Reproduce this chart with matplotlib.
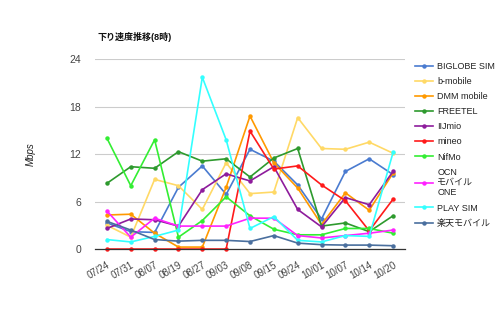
import matplotlib
matplotlib.use('Agg')
import matplotlib.pyplot as plt

plt.rcParams['font.family'] = ['Liberation Sans', 'Noto Sans CJK JP']

# データ (Mbps, 8時)
dates = ['07/24', '07/31', '08/07', '08/19', '08/27', '09/03', '09/08',
         '09/15', '09/24', '10/01', '10/07', '10/14', '10/20']

biglobe = [3.3, 2.2, 2.1, 7.8, 10.5, 6.9, 12.6, 11.1, 8.1, 3.8, 9.8, 11.4, 9.4]
bmobile = [3.0, 1.5, 8.8, 8.0, 5.0, 10.9, 7.0, 7.2, 16.6, 12.7, 12.6, 13.5, 12.1]
dmm = [4.3, 4.4, 2.0, 0.25, 0.25, 7.8, 16.8, 10.9, 7.7, 3.1, 7.1, 4.9, 9.6]
freetel = [8.3, 10.4, 10.2, 12.3, 11.1, 11.4, 9.1, 11.5, 12.7, 2.9, 3.3, 2.2, 4.2]
iijmio = [2.6, 3.8, 3.7, 2.9, 7.5, 9.5, 8.6, 10.4, 5.0, 2.8, 6.5, 5.6, 9.8]
mineo = [0, 0, 0, 0, 0, 0, 14.9, 10.1, 10.5, 8.1, 6.1, 2.3, 6.3]
nifmo = [14.0, 8.0, 13.8, 1.5, 3.6, 6.6, 4.2, 2.5, 1.8, 1.8, 2.6, 2.6, 2.0]
ocn = [4.8, 1.5, 3.9, 2.9, 2.9, 2.9, 3.9, 3.9, 1.7, 1.4, 1.7, 2.0, 2.4]
playsim = [1.2, 0.9, 1.6, 2.4, 21.7, 13.8, 2.6, 4.1, 1.1, 0.9, 1.7, 1.6, 12.2]
rakuten = [3.5, 2.4, 1.2, 1.0, 1.1, 1.1, 0.95, 1.7, 0.75, 0.55, 0.5, 0.5, 0.42]

series = [
    ('BIGLOBE SIM', biglobe, '#4a7bd0'),
    ('b-mobile', bmobile, '#ffd966'),
    ('DMM mobile', dmm, '#ff9900'),
    ('FREETEL', freetel, '#2e9a2e'),
    ('IIJmio', iijmio, '#8e1c9c'),
    ('mineo', mineo, '#ff1a1a'),
    ('NifMo', nifmo, '#33ee33'),
    ('OCN\nモバイル\nONE', ocn, '#ff22ff'),
    ('PLAY SIM', playsim, '#33ffff'),
    ('楽天モバイル', rakuten, '#4a6f9e'),
]

fig = plt.figure(figsize=(5, 3.09), dpi=100)
ax = fig.add_axes([0.19, 0.194, 0.62, 0.615])

x = list(range(len(dates)))
for name, vals, col in series:
    ax.plot(x, vals, color=col, lw=1.2, marker='o', ms=2.2, label=name,
            clip_on=False)

ax.set_xlim(-0.5, len(dates) - 0.5)
ax.set_ylim(0, 24)
ax.set_yticks([0, 6, 12, 18, 24])
ax.grid(axis='y', color='#cccccc', lw=0.8)
ax.set_axisbelow(True)
for s in ['left', 'right', 'top']:
    ax.spines[s].set_visible(False)
ax.spines['bottom'].set_color('#333333')
ax.spines['bottom'].set_linewidth(0.9)
ax.tick_params(length=0, colors='#444444', labelsize=7.5)
ax.tick_params(axis='y', pad=10)
ax.set_xticks(x)
ax.set_xticklabels(dates, rotation=30, ha='right', rotation_mode='anchor',
                   fontsize=7)
ax.tick_params(axis='x', pad=8)

ax.set_ylabel('Mbps', fontsize=7, style='italic', color='#222222', labelpad=24)
fig.text(0.194, 0.87, '下り速度推移(8時)', fontsize=6.5, fontweight='bold',
         color='#111111')

leg = fig.legend(loc='upper left', bbox_to_anchor=(0.822, 0.812), frameon=False,
                 fontsize=6.5, handlelength=2.0, handletextpad=0.5,
                 labelspacing=0.68, borderaxespad=0)
for t in leg.get_texts():
    t.set_color('#222222')

fig.savefig('out.png', dpi=100)
